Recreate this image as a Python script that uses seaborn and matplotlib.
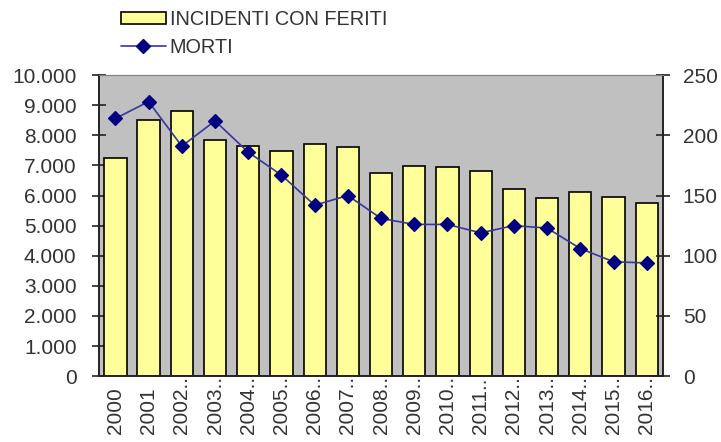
import matplotlib
matplotlib.use("Agg")
import matplotlib.pyplot as plt
import matplotlib.ticker as mticker
from matplotlib.patches import Patch
from matplotlib.lines import Line2D
import seaborn as sns
import pandas as pd

years = ["2000", "2001", "2002", "2003", "2004", "2005", "2006", "2007", "2008",
         "2009", "2010", "2011", "2012", "2013", "2014", "2015", "2016"]
year_labels = ["2000", "2001"] + [y + ".." for y in years[2:]]
incidenti = [7257, 8497, 8816, 7844, 7655, 7489, 7701, 7622, 6740,
             6992, 6959, 6826, 6209, 5910, 6109, 5954, 5765]
morti = [214, 228, 191, 212, 186, 167, 142, 150, 131,
         126, 126, 119, 125, 123, 106, 95, 94]

df = pd.DataFrame({"anno": years, "incidenti": incidenti, "morti": morti})

sns.set_style("white")
plt.rcParams["font.family"] = ["Liberation Sans", "DejaVu Sans"]
txt = "#333333"

fig, ax = plt.subplots(figsize=(7.21, 4.42), dpi=100)
fig.subplots_adjust(left=0.137, right=0.92, top=0.83, bottom=0.149)
ax.set_facecolor("#C0C0C0")

sns.barplot(data=df, x="anno", y="incidenti", color="#FFFF99", width=0.67,
            edgecolor="black", linewidth=1.2, saturation=1, ax=ax)
ax.set_ylim(0, 10000)
ax.set_xlim(-0.5, len(years) - 0.5)
ax.yaxis.set_major_locator(mticker.MultipleLocator(1000))
ax.yaxis.set_major_formatter(mticker.FuncFormatter(lambda v, p: f"{int(v):,}".replace(",", ".")))
ax.set_xlabel("")
ax.set_ylabel("")

ax2 = ax.twinx()
sns.pointplot(data=df, x="anno", y="morti", color="#000080", markers="D",
              markersize=7, linewidth=1.2, ax=ax2)
ax2.lines[0].set_color("#3636A0")
ax2.lines[0].set_markerfacecolor("#000080")
ax2.lines[0].set_markeredgecolor("#000080")
ax2.set_ylim(0, 250)
ax2.set_xlim(-0.5, len(years) - 0.5)
ax2.yaxis.set_major_locator(mticker.MultipleLocator(50))
ax2.set_ylabel("")
ax2.set_xlabel("")

# x axis: labels at centres (start of text aligned at the bottom), ticks at boundaries
ax.set_xticks(range(len(years)))
ax.set_xticklabels(year_labels, rotation=90, fontsize=15, color=txt)
ax.tick_params(axis="x", length=0, pad=42)
for lbl in ax.get_xticklabels():
    lbl.set_rotation_mode("anchor")
    lbl.set_ha("left")
    lbl.set_va("center")
ax.set_xticks([i - 0.5 for i in range(len(years) + 1)], minor=True)
ax.tick_params(axis="x", which="minor", direction="inout", length=9, width=1.2, color="#222222")

ax.tick_params(axis="y", direction="inout", length=10, width=1.2, color="#222222",
               labelsize=15, labelcolor=txt, pad=11)
ax2.tick_params(axis="y", direction="inout", length=10, width=1.2, color="#222222",
                labelsize=15, labelcolor=txt, pad=9)

for a in (ax, ax2):
    a.spines["top"].set_color("#808080")
    a.spines["top"].set_linewidth(0.8)
    for s in ("left", "bottom", "right"):
        a.spines[s].set_color("#222222")
        a.spines[s].set_linewidth(1.2)

handles = [Patch(facecolor="#FFFF99", edgecolor="black", linewidth=1.2),
           Line2D([0], [0], color="#3636A0", lw=1.2, marker="D", markersize=7,
                  markerfacecolor="#000080", markeredgecolor="#000080")]
fig.legend(handles, ["INCIDENTI CON FERITI", "MORTI"], loc="upper left",
           bbox_to_anchor=(0.143, 1.018), frameon=False, fontsize=14.3,
           handlelength=2.25, handleheight=0.6, labelspacing=0.45,
           handletextpad=0.2, labelcolor=txt)

fig.savefig("out.png", dpi=100)
